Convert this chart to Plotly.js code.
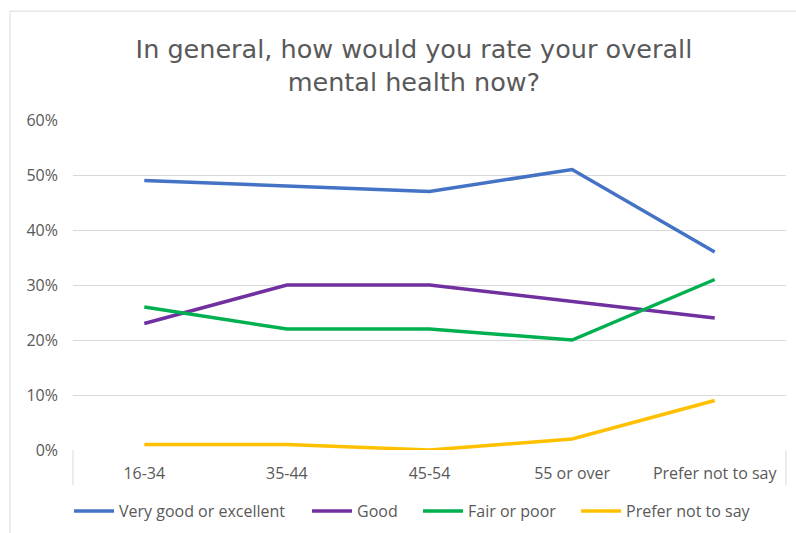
<!DOCTYPE html>
<html>
<head>
<meta charset="utf-8">
<script src="https://cdn.plot.ly/plotly-3.0.1.min.js"></script>
<style>html,body{margin:0;padding:0;background:#fff;}</style>
</head>
<body>
<div id="chart" style="width:796px;height:533px;"></div>
<script>
const categories = ["16-34", "35-44", "45-54", "55 or over", "Prefer not to say"];
const seriesNames = ["Very good or excellent", "Good", "Fair or poor", "Prefer not to say"];
const veryGood = [0.49, 0.48, 0.47, 0.51, 0.36];
const good = [0.23, 0.30, 0.30, 0.27, 0.24];
const fairPoor = [0.26, 0.22, 0.22, 0.20, 0.31];
const preferNot = [0.01, 0.01, 0.00, 0.02, 0.09];
const colors = ["#4472C4", "#7030A0", "#00B050", "#FFC000"];
const yTicks = [0, 0.1, 0.2, 0.3, 0.4, 0.5, 0.6];

const legendIds = ["legend", "legend2", "legend3", "legend4"];
const legendX = [-0.0056, 0.3282, 0.4839, 0.7055];

const allValues = [veryGood, good, fairPoor, preferNot];
const traces = allValues.map((vals, i) => ({
  type: "scatter",
  mode: "lines",
  x: categories,
  y: vals,
  name: seriesNames[i],
  legend: legendIds[i],
  line: {color: colors[i], width: 3.5},
  hoverinfo: "skip"
}));

const grey = "#595959";
const layout = {
  width: 796,
  height: 533,
  margin: {l: 73, r: 10, t: 120, b: 83},
  paper_bgcolor: "#ffffff",
  plot_bgcolor: "#ffffff",
  showlegend: true,
  title: {
    text: "In general, how would you rate your overall<br>mental health now?",
    font: {family: "DejaVu Sans", size: 25.5, color: grey},
    xref: "container", x: 0.52, xanchor: "center",
    yref: "container", y: 0.892, yanchor: "middle"
  },
  xaxis: {
    type: "category",
    range: [-0.5, 4.5],
    showgrid: false,
    zeroline: false,
    showline: false,
    ticks: "",
    ticklabelstandoff: 12,
    tickfont: {family: "Open Sans", size: 16, color: grey},
    fixedrange: true
  },
  yaxis: {
    range: [0, 0.6],
    tickvals: yTicks,
    tickformat: ".0%",
    showgrid: true,
    gridcolor: "#d9d9d9",
    gridwidth: 1,
    zeroline: false,
    showline: false,
    ticks: "",
    ticklabelstandoff: 14,
    tickfont: {family: "Open Sans", size: 16, color: grey},
    fixedrange: true
  },
  shapes: [
    {type: "rect", xref: "paper", yref: "paper", x0: -0.0884, x1: 1.2, y0: 1.33, y1: -0.6,
     line: {color: "#d9d9d9", width: 1}, fillcolor: "rgba(0,0,0,0)", layer: "below"},
    {type: "line", xref: "x domain", yref: "y domain", x0: 0, x1: 0, y0: 0, y1: -0.106,
     line: {color: "#d9d9d9", width: 1}},
    {type: "line", xref: "x domain", yref: "y domain", x0: 1, x1: 1, y0: 0, y1: -0.106,
     line: {color: "#d9d9d9", width: 1}}
  ]
};

legendIds.forEach((id, i) => {
  layout[id] = {
    orientation: "h",
    x: legendX[i], xanchor: "left",
    yref: "container",
    y: 0.0413, yanchor: "middle",
    itemwidth: 40,
    bgcolor: "rgba(0,0,0,0)",
    font: {family: "Open Sans", size: 16, color: grey},
    itemclick: false, itemdoubleclick: false
  };
});

Plotly.newPlot("chart", traces, layout, {displayModeBar: false, staticPlot: true});
</script>
</body>
</html>
